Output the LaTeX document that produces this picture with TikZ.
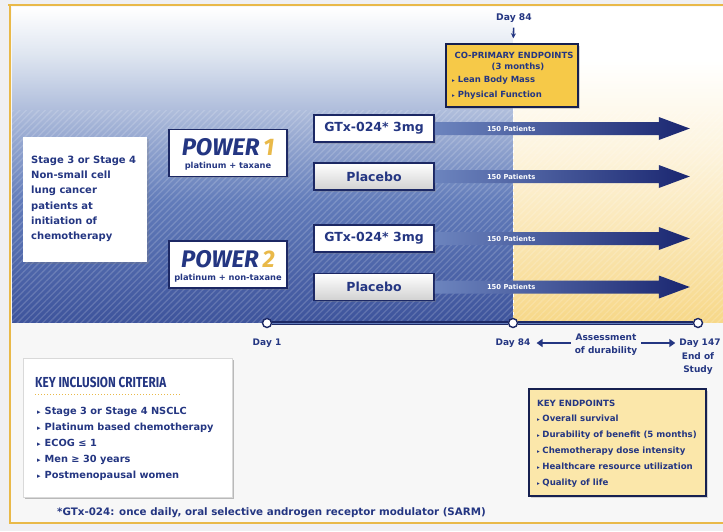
\documentclass[tikz,border=0pt]{standalone}
\usepackage{fontspec}
\setmainfont{DejaVu Sans}
\newfontfamily\symfont{DejaVu Sans}
\newfontfamily\powfont{Fira Sans}
\newfontfamily\condfont{Fira Sans}[FakeStretch=0.81]
\usetikzlibrary{shadows,patterns.meta,calc,arrows.meta}
\definecolor{navy}{RGB}{36,54,130}
\definecolor{navydk}{RGB}{28,40,100}
\definecolor{gold}{RGB}{233,185,73}
\definecolor{goldfill}{RGB}{246,201,72}
\definecolor{cream}{RGB}{251,231,170}
\definecolor{bandA}{RGB}{222,229,240}
\definecolor{bandB}{RGB}{98,124,186}
\definecolor{bandC}{RGB}{62,84,156}
\definecolor{creamA}{RGB}{253,244,222}
\definecolor{creamB}{RGB}{247,216,137}
\definecolor{arrowL}{RGB}{108,132,190}
\definecolor{arrowR}{RGB}{26,38,112}
\definecolor{bgpale}{RGB}{240,240,243}
\begin{document}
\begin{tikzpicture}[x=1pt,y=-1pt,
  whitebox/.style={fill=white,draw=none,drop shadow={shadow xshift=1.5pt,shadow yshift=-1.5pt,opacity=.25}},
  powerbox/.style={fill=white,draw=navydk,line width=1.6pt,minimum width=118pt,minimum height=47pt,drop shadow={shadow xshift=1.5pt,shadow yshift=-1.5pt,opacity=.3}},
  armbox/.style={draw=navydk,line width=1.6pt,minimum width=120pt,minimum height=27pt,text=navy,
     font=\bfseries\fontsize{12.5}{13}\selectfont,drop shadow={shadow xshift=1.5pt,shadow yshift=-1.5pt,opacity=.3}},
  gtxbox/.style={armbox,fill=white},
  plbox/.style={armbox,top color=white,bottom color=black!18},
  armarrow/.style={left color=arrowL,right color=arrowR,draw=none},
  pat/.style={anchor=west,text=white,font=\bfseries\fontsize{6.8}{7}\selectfont,inner sep=0pt},
  tcirc/.style={circle,fill=white,draw=navydk,line width=1.4pt,minimum size=9pt,inner sep=0pt},
  tlabel/.style={text=navy,font=\bfseries\fontsize{9}{13}\selectfont,align=center,inner sep=1pt},
  bigarrow/.style={draw=navy,line width=2.6pt,-{Triangle[length=6pt,width=8pt]}},
  cotxt/.style={text=navy,font=\bfseries\fontsize{8.5}{9}\selectfont,inner sep=0pt},
  kitxt/.style={anchor=base west,text=navy,font=\bfseries\fontsize{9.8}{10}\selectfont,inner sep=0pt},
  ketxt/.style={anchor=base west,text=navy,font=\bfseries\fontsize{8.6}{9}\selectfont,inner sep=0pt},
]
\useasboundingbox (0,0) rectangle (723,531);
% background
\fill[bgpale] (0,0) rectangle (723,531);
\fill[black!3] (10,5) rectangle (723,523);
% blue band
\fill[top color=white,bottom color=bandA] (12,7) rectangle (513,55.5);
\fill[top color=bandA,bottom color=bandB] (12,55) rectangle (513,200.5);
\fill[top color=bandB,bottom color=bandC] (12,200) rectangle (513,322);
% cream band
\fill[white] (513,7) rectangle (723,60.5);
\fill[top color=white,bottom color=creamA] (513,60) rectangle (723,150.5);
\fill[top color=creamA,bottom color=creamB] (513,150) rectangle (723,322);
% hatching
\fill[pattern={Lines[angle=45,distance=4.5pt,line width=1.3pt]},pattern color=white,opacity=.16] (12,110) rectangle (723,322);
% dashed divider
\draw[white,dashed,line width=.8pt] (513,108) -- (513,322);
% frame
\draw[gold,line width=2.4pt] (8,5) -- (723,5);
\draw[gold,line width=2.4pt] (10,4) -- (10,524);
\draw[gold,line width=2.4pt] (9,523) -- (723,523);

% population box
\node[whitebox,minimum width=124pt,minimum height=125pt] (stage) at (85,199.5) {};
\node[text=navy,font=\bfseries\fontsize{10}{15.3}\selectfont,align=left,anchor=west,inner sep=0pt] (stagetxt) at (31,199) {Stage 3 or Stage 4\\Non-small cell\\lung cancer\\patients at\\initiation of\\chemotherapy};

% POWER boxes
\node[powerbox] (p1) at (228,153) {};
\node[text=navy,font=\powfont\bfseries\itshape\fontsize{24}{24}\selectfont,inner sep=0pt,anchor=base] (p1t) at (228,155.5) {POWER\,\textcolor{gold}{1}};
\node[text=navy,font=\bfseries\fontsize{8.3}{9}\selectfont,inner sep=0pt,anchor=base] (p1s) at (228,168.5) {platinum + taxane};
\node[powerbox] (p2) at (228,264.5) {};
\node[text=navy,font=\powfont\bfseries\itshape\fontsize{24}{24}\selectfont,inner sep=0pt,anchor=base] (p2t) at (228,267) {POWER\,\textcolor{gold}{2}};
\node[text=navy,font=\bfseries\fontsize{8.3}{9}\selectfont,inner sep=0pt,anchor=base] (p2s) at (228,280) {platinum + non-taxane};

% arm boxes
\node[gtxbox] (g1) at (374,128.5) {GTx-024* 3mg};
\node[plbox] (q1) at (374,176.5) {Placebo};
\node[gtxbox] (g2) at (374,238.5) {GTx-024* 3mg};
\node[plbox] (q2) at (374,287) {Placebo};

% arrows
\foreach \n in {g1,q1,g2,q2}{
  \path[armarrow] ($(\n.east)+(0,-6.5)$) -- ++(224,0) -- ++(0,-5) -- ++(31,11.5) -- ++(-31,11.5) -- ++(0,-5) -- ++(-224,0) -- cycle;
  \node[pat] (\n p) at ($(\n.east)+(52,0)$) {150 Patients};
}

% co-primary
\node[text=navy,font=\bfseries\fontsize{9.2}{10}\selectfont,inner sep=1pt] (dtop) at (514,18) {Day 84};
\node[fill=goldfill,draw=navydk!80!black,line width=1.4pt,minimum width=132pt,minimum height=63pt,
  drop shadow={shadow xshift=1.5pt,shadow yshift=-1.5pt,opacity=.3}] (co) at (512,75.5) {};
\draw[navy,line width=1.6pt,-{Stealth[length=5pt,width=5pt]},shorten <=4pt,shorten >=5pt] (dtop) -- (co);
\node[cotxt] (co1) at (514,55) {CO-PRIMARY ENDPOINTS};
\node[cotxt] (co2) at (518,66.5) {(3 months)};
\node[cotxt,anchor=west] (co3) at (452,80) {{\fontsize{5.5}{5}\selectfont ▸}\hspace{3pt}Lean Body Mass};
\node[cotxt,anchor=west] (co4) at (452,95.5) {{\fontsize{5.5}{5}\selectfont ▸}\hspace{3pt}Physical Function};

% timeline
\node[tcirc] (t1) at (267,323) {};
\node[tcirc] (t2) at (513,323) {};
\node[tcirc] (t3) at (698,323) {};
\draw[draw=navydk,double=bandB,double distance=.9pt,line width=1.2pt] (t1) -- (t2);
\draw[draw=navydk,double=bandB,double distance=.9pt,line width=1.2pt] (t2) -- (t3);
\node[tlabel] (d1) at (267,343) {Day 1};
\node[tlabel] (d84) at (513,343) {Day 84};
\node[tlabel] (asm) at (606,344.5) {Assessment\\of durability};
\node[tlabel] (d147) at (700,343) {Day 147};
\node[tlabel] (eos) at (698,364) {End of\\Study};
\draw[bigarrow,shorten <=3pt,shorten >=5pt] (asm.west |- d84) -- (d84.east);
\draw[bigarrow,shorten <=3pt,shorten >=3pt] (asm.east |- d147) -- (d147.west);

% key inclusion criteria
\node[whitebox,draw=black!15,line width=.6pt,minimum width=209pt,minimum height=139pt,
  drop shadow={shadow xshift=2pt,shadow yshift=-2pt,opacity=.35}] (ki) at (127.5,427.5) {};
\node[anchor=base west,text=navy,font=\condfont\bfseries\fontsize{14.5}{15}\selectfont,inner sep=0pt] (kit) at (35,387) {KEY INCLUSION CRITERIA};
\draw[gold,line width=1pt,dash pattern=on 1pt off 2pt] (35,394) -- (181,394);
\foreach \t [count=\i from 0] in {Stage 3 or Stage 4 NSCLC,Platinum based chemotherapy,ECOG ≤ 1,Men ≥ 30 years,Postmenopausal women}{
  \node[kitxt] (ki\i) at (37,414.5+16*\i) {{\fontsize{7}{6}\selectfont ▸}\hspace{4pt}\t};
}

% footnote
\node[anchor=base west,text=navy,font=\bfseries\fontsize{10.3}{10}\selectfont,inner sep=0pt] (fn) at (57,515) {*GTx-024: once daily, oral selective androgen receptor modulator (SARM)};

% key endpoints
\node[fill=cream,draw=navydk!80!black,line width=1.4pt,minimum width=177pt,minimum height=107pt,
  drop shadow={shadow xshift=1.5pt,shadow yshift=-1.5pt,opacity=.3}] (ke) at (617.5,442.5) {};
\node[ketxt] (ket) at (537,406) {KEY ENDPOINTS};
\foreach \t [count=\i from 0] in {Overall survival,Durability of benefit (5 months),Chemotherapy dose intensity,Healthcare resource utilization,Quality of life}{
  \node[ketxt] (ke\i) at (537,421.5+16*\i) {{\fontsize{5.5}{5}\selectfont ▸}\hspace{2.5pt}\t};
}
\end{tikzpicture}
\end{document}
